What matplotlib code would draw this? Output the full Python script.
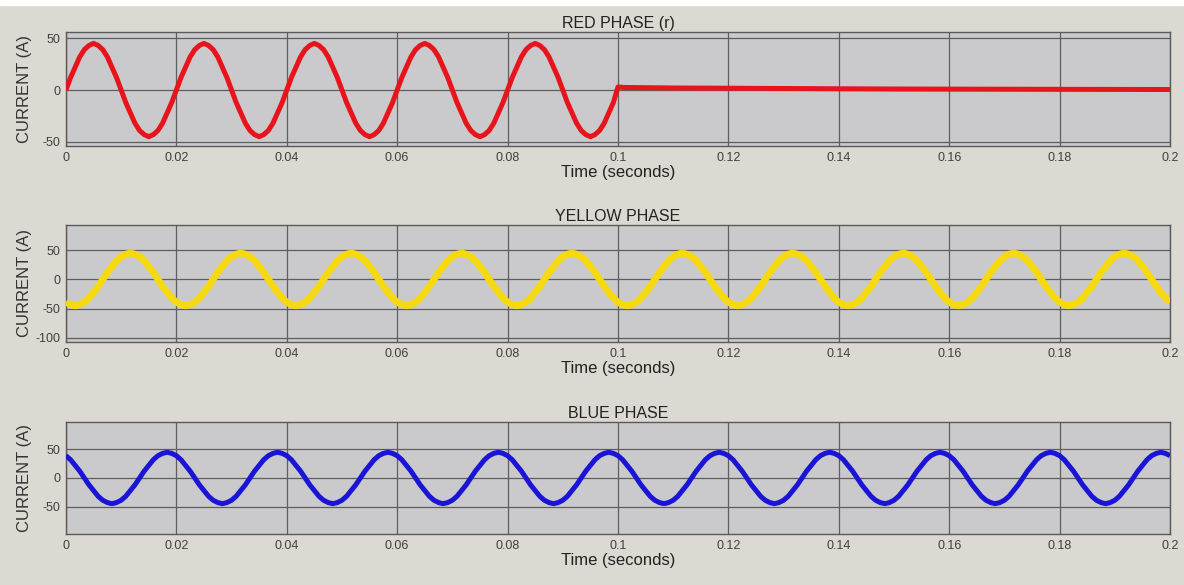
import numpy as np
import matplotlib.pyplot as plt

plt.rcParams['font.family'] = ['Liberation Sans', 'DejaVu Sans']
plt.rcParams['axes.unicode_minus'] = False

# one cycle (50 Hz, 24 samples) of each phase current, in A
cycle_step = 0.02 / 24
red_cycle = [0, 12, 22, 32, 39, 43, 45, 43, 39, 32, 22, 12,
             0, -12, -22, -32, -39, -43, -45, -43, -39, -32, -22, -12]
yellow_cycle = [-39, -43, -45, -43, -39, -32, -22, -12, 0, 12, 22, 32,
                39, 43, 45, 43, 39, 32, 22, 12, 0, -12, -22, -32]
blue_cycle = [39, 32, 22, 12, 0, -12, -22, -32, -39, -43, -45, -43,
              -39, -32, -22, -12, 0, 12, 22, 32, 39, 43, 45, 43]

# red phase after the breaker opens at 0.1 s
red_tail_t = [0.1, 0.101, 0.11, 0.13, 0.15, 0.18, 0.2]
red_tail_i = [3, 2.5, 2, 1.5, 1, 0.7, 0.5]

n_red = 5 * 24      # red conducts 5 cycles
n_full = 10 * 24    # yellow/blue run the whole 0.2 s

t_full = np.arange(n_full + 1) * cycle_step
t_red = np.concatenate([np.arange(n_red) * cycle_step, red_tail_t])
i_red = np.concatenate([np.tile(red_cycle, 5), red_tail_i])
i_yellow = np.append(np.tile(yellow_cycle, 10), yellow_cycle[0])
i_blue = np.append(np.tile(blue_cycle, 10), blue_cycle[0])

xticks = np.arange(0, 0.2001, 0.02)
xtick_labels = ['0', '0.02', '0.04', '0.06', '0.08', '0.1',
                '0.12', '0.14', '0.16', '0.18', '0.2']

panels = [
    ("RED PHASE (r)", t_red, i_red, '#e8141c', 3.6, (-54, 56), [-50, 0, 50],
     [0.0557, 0.7504, 0.9325, 0.1949]),
    ("YELLOW PHASE", t_full, i_yellow, '#f7d90f', 5.0, (-107, 93), [-100, -50, 0, 50],
     [0.0557, 0.4154, 0.9325, 0.2000]),
    ("BLUE PHASE", t_full, i_blue, '#1a14d6', 3.6, (-98, 98), [-50, 0, 50],
     [0.0557, 0.0872, 0.9325, 0.1915]),
]

fig = plt.figure(figsize=(11.84, 5.85), dpi=100)
fig.patch.set_facecolor('#dcd8d2')
# white strip along the top of the screenshot
fig.add_artist(plt.Rectangle((0, 0.992), 1, 0.008, transform=fig.transFigure,
                             color='white', zorder=0))

for title, t, i, color, lw, ylim, yticks, pos in panels:
    ax = fig.add_axes(pos)
    ax.set_facecolor('#cacacd')
    ax.plot(t, i, color=color, linewidth=lw, solid_capstyle='butt',
            solid_joinstyle='round', zorder=3)
    ax.set_xlim(0, 0.2)
    ax.set_ylim(*ylim)
    ax.set_xticks(xticks)
    ax.set_xticklabels(xtick_labels)
    ax.set_yticks(yticks)
    ax.grid(True, color='#5e5e5e', linewidth=0.9)
    ax.set_axisbelow(True)
    ax.tick_params(length=0, labelsize=9, labelcolor='#404040', pad=4)
    for s in ax.spines.values():
        s.set_color('#5a5a5a')
        s.set_linewidth(1.0)
    ax.set_title(title, fontsize=11.5, color='#222222', pad=3)
    ax.set_xlabel("Time (seconds)", fontsize=12, color='#222222', labelpad=1)
    ax.set_ylabel("CURRENT (A)", fontsize=12, color='#333333')
    ax.yaxis.set_label_coords(-0.031, 0.5)

fig.savefig('out.png', dpi=100, facecolor=fig.get_facecolor())
